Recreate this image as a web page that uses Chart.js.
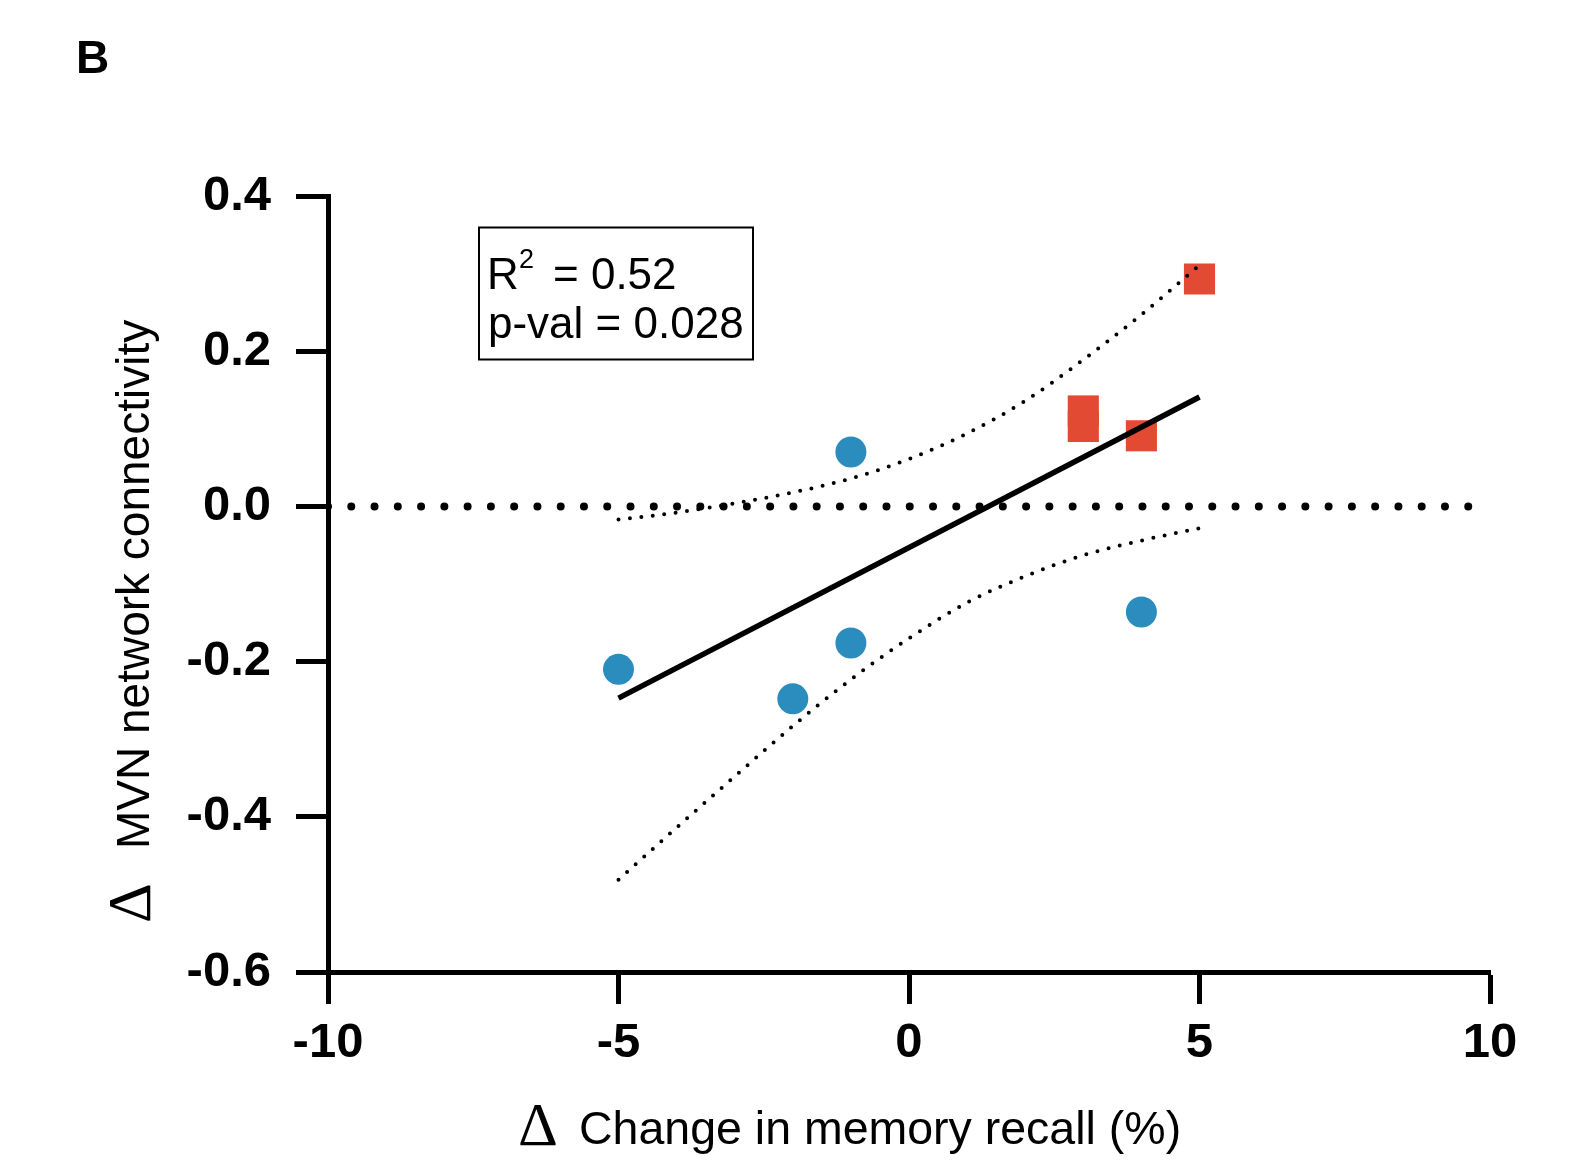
<!DOCTYPE html>
<html>
<head>
<meta charset="utf-8">
<script src="https://cdn.jsdelivr.net/npm/chart.js@4/dist/chart.umd.min.js"></script>
<style>
  html, body { margin: 0; padding: 0; background: #fff; }
  #wrap { width: 1578px; height: 1162px; }
</style>
</head>
<body>
<div id="wrap"><canvas id="c" width="1578" height="1162"></canvas></div>
<script>
// ---- data ----
const blueX = [-5, -2, -1, -1, 4];
const blueY = [-0.21, -0.248, -0.176, 0.07, -0.136];
const redX = [3, 3, 4, 5];
const redY = [0.123, 0.103, 0.091, 0.293];
const fitX = [-5, 5];
const fitY = [-0.247, 0.141];
const bandX = [-5, -4, -3, -2, -1, 0, 1, 2, 3, 4, 5];
const bandUpper = [-0.017, -0.008, 0.004, 0.018, 0.036, 0.061, 0.094, 0.136, 0.189, 0.247, 0.311];
const bandLower = [-0.481, -0.414, -0.348, -0.283, -0.223, -0.170, -0.124, -0.090, -0.063, -0.044, -0.028];
const zeroX = [-10, 10];
const zeroY = [0, 0];
const xTickValues = [-10, -5, 0, 5, 10];
const xTickLabels = ['-10', '-5', '0', '5', '10'];
const yTickValues = [-0.6, -0.4, -0.2, 0, 0.2, 0.4];
const yTickLabels = ['-0.6', '-0.4', '-0.2', '0.0', '0.2', '0.4'];
const statLines = ['R', '2', '= 0.52', 'p-val = 0.028'];
const panelLabel = 'B';
const xTitle = ['\u0394', 'Change in memory recall (%)'];
const yTitle = ['\u0394', 'MVN network connectivity'];

const pts = (xs, ys) => xs.map((x, i) => ({x: x, y: ys[i]}));

const SANS = '"Liberation Sans", Arial, Helvetica, sans-serif';
const SERIF = '"Liberation Serif", "Times New Roman", serif';

const decor = {
  id: 'decor',
  afterDraw(chart) {
    const ctx = chart.ctx;
    ctx.save();
    ctx.fillStyle = '#000';
    ctx.textBaseline = 'alphabetic';
    ctx.textAlign = 'left';
    // panel label
    ctx.font = 'bold 46px ' + SANS;
    ctx.fillText(panelLabel, 76, 73);
    // stats box
    ctx.lineWidth = 2;
    ctx.strokeStyle = '#000';
    ctx.strokeRect(479, 227.5, 274, 132);
    ctx.font = '44px ' + SANS;
    ctx.fillText(statLines[0], 487, 289);
    ctx.font = '27px ' + SANS;
    ctx.fillText(statLines[1], 519, 268);
    ctx.font = '44px ' + SANS;
    ctx.fillText(statLines[2], 553, 289);
    ctx.fillText(statLines[3], 488, 338);
    // x title
    ctx.font = '62px ' + SERIF;
    ctx.fillText(xTitle[0], 518, 1145);
    ctx.font = '46.5px ' + SANS;
    ctx.fillText(xTitle[1], 579, 1144);
    // y title
    ctx.translate(150, 0);
    ctx.rotate(-Math.PI / 2);
    ctx.font = '62px ' + SERIF;
    ctx.fillText(yTitle[0], -923, 0);
    ctx.font = '46px ' + SANS;
    ctx.fillText(yTitle[1], -849, -1);
    ctx.restore();
  }
};

new Chart(document.getElementById('c'), {
  type: 'scatter',
  data: {
    datasets: [
      { label: 'zero', data: pts(zeroX, zeroY), showLine: true, pointRadius: 0,
        borderColor: '#000', borderWidth: 8, borderDash: [0, 23.27], borderCapStyle: 'round', order: 0 },
      { label: 'upper', data: pts(bandX, bandUpper), showLine: true, pointRadius: 0,
        borderColor: '#000', borderWidth: 4, borderDash: [0, 11.5], borderCapStyle: 'round',
        cubicInterpolationMode: 'monotone', order: 0 },
      { label: 'lower', data: pts(bandX, bandLower), showLine: true, pointRadius: 0,
        borderColor: '#000', borderWidth: 4, borderDash: [0, 11.5], borderCapStyle: 'round',
        cubicInterpolationMode: 'monotone', order: 0 },
      { label: 'fit', data: pts(fitX, fitY), showLine: true, pointRadius: 0,
        borderColor: '#000', borderWidth: 5.5, order: 0 },
      { label: 'blue', data: pts(blueX, blueY), pointStyle: 'circle', pointRadius: 15.5,
        backgroundColor: '#2b8cbe', borderWidth: 0, order: 1 },
      { label: 'red', data: pts(redX, redY), pointStyle: 'rect', pointRadius: 22,
        backgroundColor: '#e34a33', borderWidth: 0, order: 1 }
    ]
  },
  options: {
    responsive: false,
    animation: false,
    devicePixelRatio: 1,
    layout: { padding: { left: 0, top: 196, right: 88, bottom: 0 } },
    plugins: { legend: { display: false }, tooltip: { enabled: false } },
    elements: { point: { hoverRadius: 0 } },
    scales: {
      x: {
        type: 'linear', min: -10, max: 10,
        afterFit(s) { s.height = 190; },
        afterBuildTicks(s) { s.ticks = xTickValues.map(v => ({value: v})); },
        grid: { display: true, drawOnChartArea: false, drawTicks: true, tickLength: 32, tickWidth: 5, tickColor: '#000' },
        border: { display: true, color: '#000', width: 5 },
        ticks: { color: '#000', padding: 10.5, maxRotation: 0, autoSkip: false,
          font: { family: SANS, size: 49, weight: 'bold' },
          callback: (v, i) => xTickLabels[i] }
      },
      y: {
        type: 'linear', min: -0.6, max: 0.4,
        afterFit(s) { s.width = 328; },
        afterBuildTicks(s) { s.ticks = yTickValues.map(v => ({value: v})); },
        grid: { display: true, drawOnChartArea: false, drawTicks: true, tickLength: 32, tickWidth: 5, tickColor: '#000' },
        border: { display: true, color: '#000', width: 5 },
        ticks: { color: '#000', padding: 25, autoSkip: false,
          font: { family: SANS, size: 49, weight: 'bold' },
          callback: (v, i) => yTickLabels[i] }
      }
    }
  },
  plugins: [decor]
});
</script>
</body>
</html>
